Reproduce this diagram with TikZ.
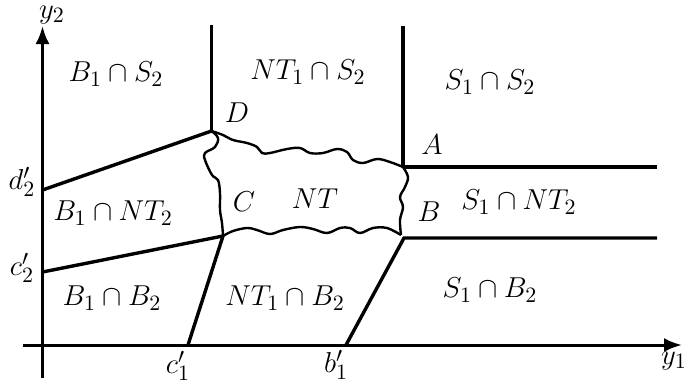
\documentclass[tikz,border=0pt]{standalone}
\usetikzlibrary{arrows.meta}
\begin{document}
\begin{tikzpicture}[x=0.5pt,y=-0.5pt,
  lbl/.style={inner sep=0pt,font=\fontsize{15.5}{18}\selectfont},
  bnd/.style={line width=1.7pt},
  wav/.style={line width=1.2pt,line join=round},
  axis/.style={line width=1.5pt}]
\useasboundingbox (0,0) rectangle (689,387);
% key points
\coordinate (O) at (42.5,345);
\coordinate (ybot) at (42.5,378);
\coordinate (ytop) at (42.5,26);
\coordinate (xl) at (23,345);
\coordinate (xr) at (682,345);
\coordinate (D) at (211.5,131);
\coordinate (Dtop) at (211.5,25);
\coordinate (A) at (403,167);
\coordinate (Atop) at (403,26);
\coordinate (Ar) at (657,167);
\coordinate (C) at (223,236);
\coordinate (Bc) at (401,235);
\coordinate (Bl) at (404,238);
\coordinate (Br) at (657,238);
\coordinate (d2) at (42.5,190);
\coordinate (c2) at (42.5,272);
\coordinate (c1) at (188,345);
\coordinate (b1) at (346,345);
% axes
\draw[axis,-{Latex[length=9pt,width=7pt]}] (ybot) -- (ytop);
\draw[axis,-{Latex[length=9pt,width=7pt]}] (xl) -- (xr);
% boundaries
\draw[bnd] (D) -- (Dtop);
\draw[bnd] (A) -- (Atop);
\draw[bnd] (A) -- (Ar);
\draw[bnd] (d2) -- (D);
\draw[bnd] (c2) -- (C);
\draw[bnd] (c1) -- (C);
\draw[bnd] (b1) -- (Bl) -- (Br);
% wavy NT region
\draw[wav] plot[smooth,tension=0.6] coordinates {(211.5,131) (223,135) (233,140) (247,143) (257,147) (262,153) (270,153) (287,149) (300,148) (310,153) (323,153) (337,149) (347,152) (353,160) (363,163) (377,159) (390,162) (403,167)};
\draw[wav] plot[smooth,tension=0.6] coordinates {(403,167) (408,177) (405,187) (400,197) (403,207) (400,220) (401,235)};
\draw[wav] plot[smooth,tension=0.6] coordinates {(223,236) (233,231) (247,228) (257,230) (270,234) (283,230) (300,227) (313,229) (327,233) (340,228) (350,228) (360,233) (373,228) (387,228) (401,235)};
\draw[wav] plot[smooth,tension=0.6] coordinates {(211.5,131) (218,138) (215,147) (205,153) (205,160) (212,175) (218,180) (220,193) (220,210) (222,223) (223,236)};
% labels
\node[lbl] (l1) at (116,74) {$B_1\cap S_2$};
\node[lbl] (l2) at (308,72) {$NT_1\cap S_2$};
\node[lbl] (l3) at (490,82) {$S_1\cap S_2$};
\node[lbl] (lD) at (237,113) {$D$};
\node[lbl] (lA) at (432,145) {$A$};
\node[lbl] (ld2) at (22,182) {$d_2'$};
\node[lbl] (l4) at (113,213) {$B_1\cap NT_2$};
\node[lbl] (lC) at (244,202) {$C$};
\node[lbl] (lNT) at (315,199) {$NT$};
\node[lbl] (lB) at (429,212) {$B$};
\node[lbl] (l5) at (519,202) {$S_1\cap NT_2$};
\node[lbl] (lc2) at (22,268) {$c_2'$};
\node[lbl] (l6) at (112,298) {$B_1\cap B_2$};
\node[lbl] (l7) at (285,298) {$NT_1\cap B_2$};
\node[lbl] (l8) at (490,290) {$S_1\cap B_2$};
\node[lbl] (lc1) at (178,366) {$c_1'$};
\node[lbl] (lb1) at (336,365) {$b_1'$};
\node[lbl] (ly1) at (674,361) {$y_1$};
\node[lbl] (ly2) at (52,15) {$y_2$};
\end{tikzpicture}
\end{document}
